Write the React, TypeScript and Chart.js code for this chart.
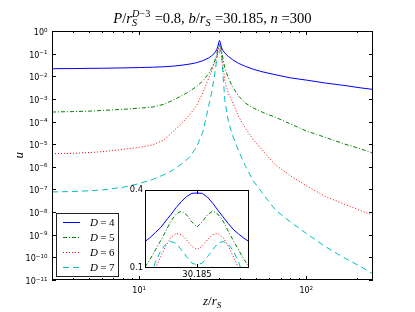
import React, { useEffect, useRef } from "react";
import { Chart, registerables } from "chart.js";

Chart.register(...registerables);

// ---------- data ----------
const B = 30.185;
const zValues = [3, 4, 5, 6, 8, 10, 12, 14, 16, 18, 20, 22, 24, 26, 27, 28, 29, 29.5, 29.9, 30.185, 30.5, 30.9, 31.5, 32.5, 34, 36, 39, 43, 48, 55, 65, 80, 100, 130, 170, 210, 250];
// log10(u) at each z
const log10U_D4 = [-1.665, -1.66, -1.65, -1.645, -1.63, -1.615, -1.6, -1.58, -1.55, -1.51, -1.46, -1.4, -1.31, -1.19, -1.1, -1.0, -0.84, -0.68, -0.48, -0.42, -0.51, -0.71, -0.85, -0.98, -1.12, -1.26, -1.42, -1.56, -1.69, -1.81, -1.93, -2.07, -2.17, -2.3, -2.41, -2.51, -2.58];
const log10U_D5 = [-3.58, -3.56, -3.54, -3.51, -3.46, -3.41, -3.36, -3.24, -3.05, -2.85, -2.66, -2.45, -2.2, -1.88, -1.66, -1.4, -1.05, -0.77, -0.57, -0.68, -0.56, -0.8, -1.15, -1.65, -2.05, -2.45, -2.85, -3.18, -3.4, -3.6, -3.81, -4.1, -4.42, -4.7, -5.0, -5.2, -5.4];
const log10U_D6 = [-5.42, -5.4, -5.37, -5.33, -5.23, -5.14, -5.03, -4.82, -4.42, -4.07, -3.7, -3.3, -2.72, -2.08, -1.8, -1.5, -1.18, -0.9, -0.74, -0.86, -0.74, -0.94, -1.45, -2.2, -2.75, -3.12, -3.75, -4.28, -4.8, -5.3, -5.91, -6.39, -6.84, -7.32, -7.66, -7.93, -8.14];
const log10U_D7 = [-7.11, -7.09, -7.06, -7.02, -6.9, -6.74, -6.56, -6.35, -6.13, -5.86, -5.57, -5.12, -4.45, -3.3, -2.75, -2.1, -1.3, -0.86, -0.87, -0.98, -0.85, -0.89, -1.75, -3.1, -3.95, -4.6, -5.25, -5.95, -6.62, -7.2, -7.9, -8.43, -8.95, -9.53, -10.04, -10.4, -10.73];

const insetZ = [29.185, 29.285, 29.385, 29.485, 29.585, 29.685, 29.785, 29.885, 29.985, 30.085, 30.185, 30.285, 30.385, 30.485, 30.585, 30.685, 30.785, 30.885, 30.985, 31.085, 31.185];
const insetU_D4 = [0.16, 0.172, 0.188, 0.205, 0.231, 0.259, 0.293, 0.326, 0.356, 0.377, 0.379, 0.377, 0.353, 0.317, 0.28, 0.248, 0.221, 0.198, 0.183, 0.17, 0.16];
const insetU_D5 = [0.102, 0.117, 0.138, 0.162, 0.193, 0.231, 0.261, 0.275, 0.257, 0.227, 0.207, 0.227, 0.257, 0.275, 0.261, 0.231, 0.193, 0.162, 0.138, 0.117, 0.102];
const insetU_D6 = [0.068, 0.082, 0.1, 0.122, 0.148, 0.172, 0.185, 0.181, 0.165, 0.147, 0.139, 0.147, 0.165, 0.181, 0.185, 0.172, 0.148, 0.122, 0.1, 0.082, 0.068];
const insetU_D7 = [0.062, 0.085, 0.111, 0.135, 0.153, 0.16, 0.155, 0.138, 0.122, 0.109, 0.106, 0.109, 0.122, 0.138, 0.155, 0.16, 0.153, 0.135, 0.111, 0.085, 0.062];

const seriesNames = ["4", "5", "6", "7"];
const seriesColors = ["#0000ff", "#008000", "#ff0000", "#00bfbf"];
const seriesDash: number[][] = [[], [4, 2, 1, 2], [1, 2], [6, 4]];

const yTickExps = [0, -1, -2, -3, -4, -5, -6, -7, -8, -9, -10, -11];
const xTickExps = [1, 2];
const xMinorTicks = [3, 4, 5, 6, 7, 8, 9, 20, 30, 40, 50, 60, 70, 80, 90, 200];
const insetYTickLabels = ["0.4", "0.1"];
const insetYTickValues = [0.4, 0.1];

// ---------- text helpers ----------
const mathFam = '"Liberation Serif", "DejaVu Serif", serif';
const sansFam = '"DejaVu Sans", sans-serif';

type Seg = { t?: string; it?: boolean; sup?: Seg[]; sub?: Seg[]; gap?: number };

function setFont(ctx: CanvasRenderingContext2D, size: number, fam: string, it?: boolean) {
  ctx.font = `${it ? "italic " : ""}${size}px ${fam}`;
}
function segsWidth(ctx: CanvasRenderingContext2D, segs: Seg[], size: number, fam: string): number {
  let w = 0;
  for (const s of segs) {
    if (s.gap) w += s.gap * size;
    else if (s.sup || s.sub) {
      const a = s.sup ? segsWidth(ctx, s.sup, size * 0.7, fam) : 0;
      const b = s.sub ? segsWidth(ctx, s.sub, size * 0.7, fam) : 0;
      w += Math.max(a, b) + size * 0.05;
    } else {
      setFont(ctx, size, fam, s.it);
      w += ctx.measureText(s.t || "").width;
    }
  }
  return w;
}
function drawSegs(ctx: CanvasRenderingContext2D, segs: Seg[], x: number, y: number, size: number, fam: string): number {
  for (const s of segs) {
    if (s.gap) x += s.gap * size;
    else if (s.sup || s.sub) {
      let a = 0, b = 0;
      if (s.sup) a = drawSegs(ctx, s.sup, x, y - size * 0.42, size * 0.7, fam) - x;
      if (s.sub) b = drawSegs(ctx, s.sub, x, y + size * 0.22, size * 0.7, fam) - x;
      x += Math.max(a, b) + size * 0.05;
    } else {
      setFont(ctx, size, fam, s.it);
      ctx.textAlign = "left";
      ctx.textBaseline = "alphabetic";
      ctx.fillText(s.t || "", x, y);
      x += ctx.measureText(s.t || "").width;
    }
  }
  return x;
}
function expLabel(e: number): Seg[] {
  return [{ t: "10" }, { sup: [{ t: e < 0 ? "\u2212" + Math.abs(e) : String(e) }] }];
}

const titleSegs: Seg[] = [
  { t: "P", it: true }, { t: "/" }, { t: "r", it: true },
  { sub: [{ t: "S", it: true }], sup: [{ t: "D", it: true }, { t: "\u22123" }] },
  { t: " =0.8, " }, { t: "b", it: true }, { t: "/" }, { t: "r", it: true },
  { sub: [{ t: "S", it: true }] }, { t: " =30.185, " }, { t: "n", it: true }, { t: " =300" },
];
const xLabelSegs: Seg[] = [{ t: "z", it: true }, { t: "/" }, { t: "r", it: true }, { sub: [{ t: "S", it: true }] }];

// ---------- plugins ----------
const mainPlugin = {
  id: "mainDeco",
  beforeDraw(chart: any) {
    const ctx = chart.ctx as CanvasRenderingContext2D;
    ctx.save();
    ctx.fillStyle = "#fff";
    ctx.fillRect(0, 0, chart.width, chart.height);
    ctx.restore();
  },
  afterDatasetsDraw(chart: any) {
    const ctx = chart.ctx as CanvasRenderingContext2D;
    const a = chart.chartArea;
    const xs = chart.scales.x;
    const ys = chart.scales.y;
    ctx.save();
    ctx.fillStyle = "#000";
    ctx.strokeStyle = "#000";
    ctx.lineWidth = 1;

    // legend
    const lx = 56.5, ly = 213.5, lw = 62, lh = 63;
    ctx.fillStyle = "#fff";
    ctx.fillRect(lx, ly, lw, lh);
    ctx.strokeStyle = "#222";
    ctx.strokeRect(lx, ly, lw, lh);
    const rows = [222, 237, 252, 267];
    seriesNames.forEach((n, i) => {
      ctx.strokeStyle = seriesColors[i];
      ctx.setLineDash(seriesDash[i]);
      ctx.beginPath();
      ctx.moveTo(63, rows[i] + 0.5);
      ctx.lineTo(80, rows[i] + 0.5);
      ctx.stroke();
      ctx.setLineDash([]);
      ctx.fillStyle = "#000";
      drawSegs(ctx, [{ t: "D", it: true }, { gap: 0.22 }, { t: "=" }, { gap: 0.22 }, { t: n }], 90, rows[i] + 4, 11, mathFam);
    });

    // frame
    ctx.strokeStyle = "#000";
    ctx.strokeRect(a.left + 0.5, a.top + 0.5, a.right - a.left - 1, a.bottom - a.top - 1);

    // ticks
    ctx.beginPath();
    xTickExps.forEach((e) => {
      const px = Math.round(xs.getPixelForValue(Math.pow(10, e))) + 0.5;
      ctx.moveTo(px, a.bottom); ctx.lineTo(px, a.bottom - 4);
      ctx.moveTo(px, a.top); ctx.lineTo(px, a.top + 4);
    });
    xMinorTicks.forEach((v) => {
      const px = Math.round(xs.getPixelForValue(v)) + 0.5;
      ctx.moveTo(px, a.bottom); ctx.lineTo(px, a.bottom - 2);
      ctx.moveTo(px, a.top); ctx.lineTo(px, a.top + 2);
    });
    yTickExps.forEach((e) => {
      const py = Math.round(ys.getPixelForValue(Math.pow(10, e))) + 0.5;
      ctx.moveTo(a.left, py); ctx.lineTo(a.left + 4, py);
      ctx.moveTo(a.right, py); ctx.lineTo(a.right - 4, py);
    });
    ctx.stroke();

    // tick labels
    ctx.fillStyle = "#000";
    xTickExps.forEach((e) => {
      const px = xs.getPixelForValue(Math.pow(10, e));
      const segs = expLabel(e);
      const w = segsWidth(ctx, segs, 8, sansFam);
      drawSegs(ctx, segs, px - w / 2, 293, 8, sansFam);
    });
    yTickExps.forEach((e) => {
      const py = ys.getPixelForValue(Math.pow(10, e));
      const segs = expLabel(e);
      const w = segsWidth(ctx, segs, 8, sansFam);
      drawSegs(ctx, segs, 48 - w, py + 4, 8, sansFam);
    });

    // axis labels
    const cx = (a.left + a.right) / 2;
    const xw = segsWidth(ctx, xLabelSegs, 13, mathFam);
    drawSegs(ctx, xLabelSegs, cx - xw / 2, 305, 13, mathFam);
    ctx.save();
    ctx.translate(23, (a.top + a.bottom) / 2);
    ctx.rotate(-Math.PI / 2);
    drawSegs(ctx, [{ t: "u", it: true }], -3, 0, 13, mathFam);
    ctx.restore();

    // title
    const tw = segsWidth(ctx, titleSegs, 14.6, mathFam);
    drawSegs(ctx, titleSegs, cx - tw / 2, 23, 14.6, mathFam);

    ctx.restore();
  },
};

const insetPlugin = {
  id: "insetDeco",
  beforeDatasetsDraw(chart: any) {
    const ctx = chart.ctx as CanvasRenderingContext2D;
    const a = chart.chartArea;
    ctx.save();
    ctx.fillStyle = "#fff";
    ctx.fillRect(a.left, a.top, a.right - a.left, a.bottom - a.top);
    ctx.restore();
  },
  afterDatasetsDraw(chart: any) {
    const ctx = chart.ctx as CanvasRenderingContext2D;
    const a = chart.chartArea;
    const xs = chart.scales.x;
    const ys = chart.scales.y;
    ctx.save();
    ctx.strokeStyle = "#000";
    ctx.lineWidth = 1;
    ctx.strokeRect(a.left + 0.5, a.top + 0.5, a.right - a.left - 1, a.bottom - a.top - 1);
    const px = Math.round(xs.getPixelForValue(B)) + 0.5;
    ctx.beginPath();
    ctx.moveTo(px, a.bottom); ctx.lineTo(px, a.bottom - 4);
    ctx.moveTo(px, a.top); ctx.lineTo(px, a.top + 4);
    ctx.stroke();
    ctx.fillStyle = "#000";
    ctx.font = `8.4px ${sansFam}`;
    ctx.textAlign = "right";
    ctx.textBaseline = "middle";
    insetYTickValues.forEach((v, i) => {
      ctx.fillText(insetYTickLabels[i], a.left - 2, ys.getPixelForValue(v));
    });
    ctx.textAlign = "center";
    ctx.textBaseline = "top";
    ctx.fillText(String(B), xs.getPixelForValue(B), a.bottom + 3);
    ctx.restore();
  },
};

export default function App() {
  const mainRef = useRef<HTMLCanvasElement>(null);
  const insetRef = useRef<HTMLCanvasElement>(null);

  useEffect(() => {
    document.body.style.margin = "0";
    const logs = [log10U_D4, log10U_D5, log10U_D6, log10U_D7];
    const insets = [insetU_D4, insetU_D5, insetU_D6, insetU_D7];

    const main = new Chart(mainRef.current!, {
      type: "line",
      data: {
        datasets: seriesNames.map((n, i) => ({
          label: "D=" + n,
          data: zValues.map((z, k) => ({ x: z, y: Math.pow(10, logs[i][k]) })),
          borderColor: seriesColors[i],
          borderWidth: 1,
          borderDash: seriesDash[i],
          pointRadius: 0,
          fill: false,
          tension: 0,
        })),
      },
      options: {
        animation: false,
        responsive: false,
        events: [],
        layout: { padding: { left: 52, right: 42, top: 31, bottom: 32 } },
        scales: {
          x: { type: "logarithmic", min: 3, max: 250, display: false },
          y: { type: "logarithmic", min: 1e-11, max: 1, display: false },
        },
        plugins: { legend: { display: false }, tooltip: { enabled: false }, title: { display: false } },
      },
      plugins: [mainPlugin],
    } as any);

    const inset = new Chart(insetRef.current!, {
      type: "line",
      data: {
        datasets: seriesNames.map((n, i) => ({
          label: "D=" + n,
          data: insetZ.map((z, k) => ({ x: z, y: insets[i][k] })),
          borderColor: seriesColors[i],
          borderWidth: 1,
          borderDash: seriesDash[i],
          pointRadius: 0,
          fill: false,
          tension: 0,
        })),
      },
      options: {
        animation: false,
        responsive: false,
        events: [],
        layout: { padding: { left: 15, right: 11, top: 10, bottom: 17 } },
        scales: {
          x: { type: "linear", min: insetZ[0], max: insetZ[insetZ.length - 1], display: false },
          y: { type: "logarithmic", min: 0.1, max: 0.4, display: false },
        },
        plugins: { legend: { display: false }, tooltip: { enabled: false }, title: { display: false } },
      },
      plugins: [insetPlugin],
    } as any);

    return () => {
      main.destroy();
      inset.destroy();
    };
  }, []);

  return (
    <div style={{ position: "relative", width: 415, height: 312, background: "#fff" }}>
      <canvas ref={mainRef} width={415} height={312} style={{ position: "absolute", left: 0, top: 0, width: 415, height: 312 }} />
      <canvas ref={insetRef} width={130} height={105} style={{ position: "absolute", left: 130, top: 180, width: 130, height: 105 }} />
    </div>
  );
}
